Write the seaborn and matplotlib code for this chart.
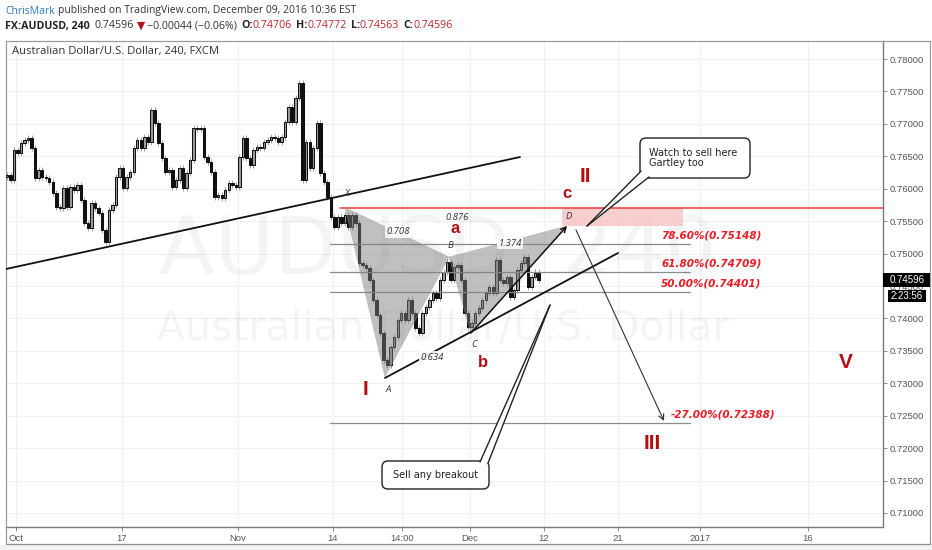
import matplotlib
matplotlib.use("Agg")
import numpy as np
import pandas as pd
import matplotlib.pyplot as plt
import seaborn as sns
from matplotlib.patches import FancyBboxPatch, Polygon, Rectangle
from matplotlib.lines import Line2D
from matplotlib.transforms import IdentityTransform, blended_transform_factory

# AUDUSD closes, one value per 8 hours of trading
closes = [
    0.76211, 0.76134, 0.76597, 0.76551, 0.76705, 0.76751, 0.76782, 0.76628, 0.76165, 0.76288,
    0.76180, 0.76165, 0.76103, 0.75934, 0.75718, 0.75702, 0.76011, 0.75718, 0.76026, 0.75980,
    0.76057, 0.75826, 0.75471, 0.75394, 0.75780, 0.75702, 0.75625, 0.75363, 0.75178, 0.75672,
    0.75749, 0.76180, 0.76319, 0.76011, 0.76180, 0.76258, 0.76628, 0.76751, 0.76628, 0.76797,
    0.76720, 0.77214, 0.77013, 0.76705, 0.76473, 0.76258, 0.76288, 0.76026, 0.76134, 0.76319,
    0.76011, 0.76242, 0.76443, 0.76936, 0.76920, 0.76936, 0.76489, 0.76412, 0.76258, 0.75872,
    0.75903, 0.75857, 0.75980, 0.76088, 0.76057, 0.76026, 0.76489, 0.76782, 0.76473, 0.76365,
    0.76597, 0.76643, 0.76628, 0.76720, 0.76751, 0.76797, 0.76782, 0.76720, 0.76797, 0.77029,
    0.77260, 0.77029, 0.77399, 0.77630, 0.76134, 0.76720, 0.76319, 0.76628, 0.77013, 0.76242,
    0.76103, 0.75872, 0.75564, 0.75409, 0.75564, 0.75471, 0.75594, 0.75409, 0.75594, 0.75471,
    0.74854, 0.74823, 0.74777, 0.74592, 0.74284, 0.74053, 0.73775, 0.73359, 0.73281, 0.73559,
    0.73713, 0.73975, 0.74083, 0.73975, 0.74284, 0.74083, 0.73852, 0.73775, 0.74083, 0.74176,
    0.74284, 0.74392, 0.74315, 0.74592, 0.74716, 0.74870, 0.74592, 0.74793, 0.74823, 0.74592,
    0.74083, 0.73867, 0.73929, 0.74083, 0.74160, 0.74284, 0.74392, 0.74484, 0.74392, 0.74901,
    0.74592, 0.74546, 0.74638, 0.74330, 0.74438, 0.74746, 0.74854, 0.74947, 0.74484, 0.74638,
    0.74706, 0.74596,
]
first_open = 0.76180
first_bar_day = -0.85   # trading days, 0 = Mon Oct 3 2016
bars_per_day = 3

day_ticks = [0, 10, 21, 30, 36.58, 43, 50, 57, 64.8, 75]
day_labels = ["Oct", "17", "Nov", "14", "14:00", "Dec", "12", "21", "2017", "16"]
price_ticks = [0.710, 0.715, 0.720, 0.725, 0.730, 0.735, 0.740, 0.745,
               0.750, 0.755, 0.760, 0.765, 0.770, 0.775, 0.780]
price_labels = ["0.71000", "0.71500", "0.72000", "0.72500", "0.73000", "0.73500", "0.74000",
                "0.74500", "0.75000", "0.75500", "0.76000", "0.76500", "0.77000", "0.77500", "0.78000"]

# drawings, as (trading day, price)
trend_upper = [(-0.95, 0.74762), (47.73, 0.76489)]
trend_lower = [(34.94, 0.73082), (57.01, 0.75009)]
x_level = (30.7, 0.75710)
gartley = {"X": (31.16, 0.75710), "A": (34.94, 0.73096), "B": (41.0, 0.74947),
           "C": (43.09, 0.73776), "D": (52.18, 0.75425)}
point_labels = {"X": (31.35, 0.75934), "A": (35.23, 0.72897), "B": (41.1, 0.75132),
                "C": (43.37, 0.73591), "D": (52.37, 0.75579)}
ratio_labels = [("0.708", 36.17, 0.75333, True), ("0.876", 41.76, 0.75549, False),
                ("1.374", 46.78, 0.75163, True), ("0.634", 39.39, 0.73405, True)]
d_zone = (51.7, 63.16, 0.75425, 0.75703)
fib_levels = [0.75148, 0.74709, 0.74401, 0.72388]
fib_texts = ["78.60%(0.75148)", "61.80%(0.74709)", "50.00%(0.74401)", "-27.00%(0.72388)"]
fib_text_day = [61.08, 61.08, 61.08, 62.03]
fib_span = (29.73, 63.83)
wave_labels = [("I", 33.14, 0.72897, 15), ("II", 53.88, 0.76181, 15), ("III", 60.23, 0.72064, 15),
               ("V", 78.6, 0.73328, 15), ("a", 41.57, 0.75394, 12), ("b", 44.22, 0.73313, 12),
               ("c", 52.18, 0.75919, 12)]
arrow_down = [(53.03, 0.75364), (61.36, 0.72419)]
watch_box = (59.09, 69.51, 0.76165, 0.76782)
watch_tail = [(59.19, 0.76273), (59.94, 0.76181), (54.07, 0.75425)]
watch_lines = ["Watch to sell here", "Gartley too"]
sell_box = (34.66, 44.79, 0.71370, 0.71802)
sell_tail = [(43.94, 0.71787), (44.70, 0.71771), (50.57, 0.74207)]
last_price = ("0.74596", 0.74596)
countdown = ("2:23:56", 0.74346)

W, H = 932, 550
sns.set_theme(style="white")
plt.rcParams["font.family"] = ["Open Sans", "DejaVu Sans"]

df = pd.DataFrame({"close": closes})
df["open"] = df["close"].shift(1).fillna(first_open)
df["day"] = first_bar_day + df.index / bars_per_day
df["up"] = df["close"] >= df["open"]
wick = 0.0005

fig = plt.figure(figsize=(W / 100, H / 100), dpi=100)
fig.patch.set_facecolor("white")
ax = fig.add_axes([5.5 / W, 1 - 527 / H, (883 - 5.5) / W, (527 - 41) / H])
ax.set_xlim(-0.994, 82.1)
ax.set_ylim(0.70784, 0.78278)

# grid
for d in day_ticks:
    ax.axvline(d, color="#f0f1f4", lw=0.8, zorder=0)
for p in price_ticks:
    ax.axhline(p, color="#f0f1f4", lw=0.8, zorder=0)

# watermark
ax.text(0.493, 0.566, "AUDUSD, 240", transform=ax.transAxes, ha="center", va="center",
        fontsize=58.5, family="DejaVu Sans", color="#000000", alpha=0.045, zorder=0.5)
ax.text(0.499, 0.408, "Australian Dollar/U.S. Dollar", transform=ax.transAxes, ha="center",
        va="center", fontsize=29.5, family="DejaVu Sans", color="#000000", alpha=0.045, zorder=0.5)

# candles
lo = np.minimum(df["open"], df["close"])
hi = np.maximum(df["open"], df["close"])
ax.vlines(df["day"], lo - wick, hi + wick, color="#a0a0a0", lw=0.7, zorder=2)
ax.bar(df["day"], hi - lo, bottom=lo, width=0.23,
       color=np.where(df["up"], "#9d9d9d", "#111111"), edgecolor="#111111", lw=0.75, zorder=3)

# trendlines
for line in (trend_upper, trend_lower):
    sns.lineplot(x=[line[0][0], line[1][0]], y=[line[0][1], line[1][1]], ax=ax,
                 color="#111111", lw=1.3, zorder=5)
ax.plot([x_level[0], 82.1], [x_level[1], x_level[1]], color="#ee3b3b", lw=1.1, zorder=4)
ax.add_patch(Rectangle((d_zone[0], d_zone[2]), d_zone[1] - d_zone[0], d_zone[3] - d_zone[2],
                       fc="#f9c6c6", ec="none", alpha=0.85, zorder=3.5))

# fib levels
for lvl, txt, xd in zip(fib_levels, fib_texts, fib_text_day):
    ax.plot(fib_span, [lvl, lvl], color="#8a8a8a", lw=0.9, zorder=4)
    ax.annotate(txt, (xd, lvl), xytext=(0, 2.5), textcoords="offset points", ha="left",
                va="bottom", fontsize=7.5, fontweight="bold", fontstyle="italic",
                family="DejaVu Sans", color="#ec1c24", zorder=6)

# gartley triangles
g = gartley
for tri in (("X", "A", "B"), ("B", "C", "D")):
    ax.add_patch(Polygon([g[k] for k in tri], closed=True, fc="#7d7d7d", ec="#9a9a9a",
                         lw=0.5, alpha=0.48, zorder=4.5))
ax.annotate("", xy=g["D"], xytext=g["C"],
            arrowprops=dict(arrowstyle="->", color="#111111", lw=1.1, mutation_scale=9,
                            shrinkA=0, shrinkB=0), zorder=5)
for k, (xd, yp) in point_labels.items():
    ax.text(xd, yp, k, ha="center", va="center", fontsize=6.8, fontstyle="italic",
            color="#333333", zorder=6)
for txt, xd, yp, boxed in ratio_labels:
    bb = dict(boxstyle="square,pad=0.12", fc="white", ec="none", alpha=0.85) if boxed else None
    ax.text(xd, yp, txt, ha="center", va="center", fontsize=6.8, fontstyle="italic",
            color="#333333", bbox=bb, zorder=6)

# wave counts
for txt, xd, yp, size in wave_labels:
    ax.text(xd, yp, txt, ha="center", va="center", fontsize=size, fontweight="bold",
            family="Liberation Sans", color="#b20f12", zorder=6)

ax.annotate("", xy=arrow_down[1], xytext=arrow_down[0],
            arrowprops=dict(arrowstyle="->", color="#333333", lw=0.8, mutation_scale=10,
                            shrinkA=0, shrinkB=0), zorder=5)


def callout(box, tail, lines, text_left=None):
    (x0, y0) = ax.transData.transform((box[0], box[2]))
    (x1, y1) = ax.transData.transform((box[1], box[3]))
    ax.add_patch(FancyBboxPatch((x0, y0), x1 - x0, y1 - y0,
                                boxstyle="round,pad=0,rounding_size=6",
                                transform=IdentityTransform(), fc="white", ec="#222222",
                                lw=1.0, zorder=7))
    pts = [ax.transData.transform(p) for p in tail]
    ax.add_patch(Polygon(pts, closed=True, transform=IdentityTransform(), fc="white",
                         ec="none", zorder=7.5))
    for b in pts[:2]:
        ax.add_line(Line2D([b[0], pts[2][0]], [b[1], pts[2][1]], transform=IdentityTransform(),
                           color="#222222", lw=1.0, zorder=7.6))
    cy = (box[2] + box[3]) / 2
    if text_left is None:
        ax.text((box[0] + box[1]) / 2, cy, "\n".join(lines), ha="center", va="center",
                fontsize=7, family="DejaVu Sans", color="#222222", zorder=8)
    else:
        ax.text(text_left, cy, "\n".join(lines), ha="left", va="center", linespacing=1.05,
                fontsize=7, family="DejaVu Sans", color="#222222", zorder=8)


callout(watch_box, watch_tail, watch_lines, text_left=59.94)
callout(sell_box, sell_tail, ["Sell any breakout"])

# axes styling
ax.yaxis.tick_right()
ax.set_yticks(price_ticks)
ax.set_yticklabels(price_labels)
ax.set_xticks(day_ticks)
ax.set_xticklabels(day_labels)
ax.tick_params(axis="y", right=True, length=3, width=0.7, color="#8a8a8a", pad=1.5,
               labelsize=6.8, labelcolor="#555555")
ax.tick_params(axis="x", bottom=True, length=3, width=0.7, color="#8a8a8a", pad=2,
               labelsize=6.8, labelcolor="#555555")
for lab in ax.get_xticklabels() + ax.get_yticklabels():
    lab.set_family("Liberation Sans")
for side in ("left", "top"):
    ax.spines[side].set_color("#9c9c9c")
    ax.spines[side].set_linewidth(0.9)
for side in ("right", "bottom"):
    ax.spines[side].set_color("#7a7a7a")
    ax.spines[side].set_linewidth(1.0)

# last price and countdown tags on the price scale
tr = blended_transform_factory(ax.transAxes, ax.transData)
px_x = lambda x: (x - 5.5) / (883 - 5.5)
for (txt, yp), (xa, xb), half in ((last_price, (883, 931), 0.00105), (countdown, (888, 926), 0.00098)):
    ax.add_patch(Rectangle((px_x(xa), yp - half), px_x(xb) - px_x(xa), 2 * half, transform=tr,
                           fc="black", ec="none", clip_on=False, zorder=9))
    ax.text(px_x((xa + xb) / 2), yp, txt, transform=tr, ha="center", va="center", fontsize=7,
            family="Liberation Sans", color="white", clip_on=False, zorder=10)

# outer frame of the widget
fig.add_artist(Line2D([930 / W, 930 / W], [1 - 41 / H, 1 - 544 / H], color="#9c9c9c", lw=0.9))
fig.add_artist(Line2D([5.5 / W, 930 / W], [1 - 544 / H, 1 - 544 / H], color="#8c8c8c", lw=0.9))
fig.add_artist(Line2D([5.5 / W, 5.5 / W], [1 - 527 / H, 1 - 544 / H], color="#9c9c9c", lw=0.9))
fig.add_artist(Line2D([883 / W, 930 / W], [1 - 41 / H, 1 - 41 / H], color="#9c9c9c", lw=0.9))
fig.add_artist(Rectangle((0, 0), 1, 5 / H, transform=fig.transFigure, fc="#f2f2f2", ec="none"))

# header
fig.canvas.draw()
renderer = fig.canvas.get_renderer()


def text_run(parts, x_px, y_px, size):
    x = x_px
    for gap, s, color, weight, fam in parts:
        x += gap
        t = fig.text(x / W, 1 - y_px / H, s, color=color, fontsize=size, fontweight=weight,
                     ha="left", va="center", family=fam)
        x = t.get_window_extent(renderer).x1


OS = ["Open Sans", "DejaVu Sans"]
red = "#c0262c"
text_run([(0, "ChrisMark", "#2d7dc0", "normal", OS),
          (3, "published on TradingView.com, December 09, 2016 10:36 EST", "#333333", "normal", OS)],
         5, 11, 7.45)
text_run([(0, "FX:AUDUSD, 240", "#222222", "bold", OS),
          (5, "0.74596", "#333333", "normal", OS),
          (3, "\u25bc", "#b0141a", "normal", ["DejaVu Sans"]),
          (2, "\u22120.00044 (\u22120.06%)", "#333333", "normal", OS),
          (4, "O:", "#222222", "bold", OS), (0, "0.74706", red, "normal", OS),
          (4, "H:", "#222222", "bold", OS), (0, "0.74772", red, "normal", OS),
          (4, "L:", "#222222", "bold", OS), (0, "0.74563", red, "normal", OS),
          (4, "C:", "#222222", "bold", OS), (0, "0.74596", red, "normal", OS)],
         5, 26, 7.7)
fig.text(12 / W, 1 - 52 / H, "Australian Dollar/U.S. Dollar, 240, FXCM", fontsize=8.1,
         color="#333333", ha="left", va="center", family=OS)

fig.savefig("out.png", dpi=100)
